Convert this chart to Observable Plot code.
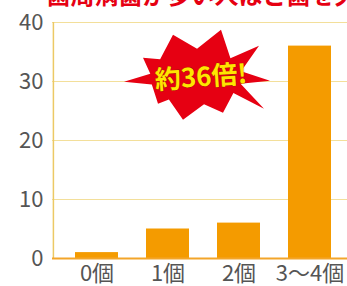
<!DOCTYPE html>
<html>
<head>
<meta charset="utf-8">
<script src="https://cdn.jsdelivr.net/npm/d3@7"></script>
<script src="https://cdn.jsdelivr.net/npm/@observablehq/plot@0.6"></script>
<style>
  html, body { margin: 0; padding: 0; background: #fff; overflow: hidden; }
  #chart svg { display: block; overflow: hidden; }
</style>
</head>
<body>
<div id="chart"></div>
<script>
const categories = ["0個", "1個", "2個", "3〜4個"];
const values = [1, 5, 6, 36];
const yTicks = [0, 10, 20, 30, 40];
const titleText = "歯周病菌が多い人ほど歯を失う割合が高い";
const calloutText = "約36倍!";
const calloutY = [30.8];

const data = categories.map((c, i) => ({category: c, value: values[i]}));

// irregular starburst shape (relative geometry)
const tips = [[-72,5],[-53,-19],[-23,-42],[25,-47],[63,-31],[74,4],[68,32],[27,36],[-13,43],[-38,27]];
const starburst = {
  draw(ctx) {
    const n = tips.length;
    tips.forEach((p, i) => {
      const q = tips[(i + 1) % n];
      const mx = (p[0] + q[0]) / 2, my = (p[1] + q[1]) / 2;
      const a = Math.atan2(my, mx);
      const ix = 46 * Math.cos(a), iy = 28 * Math.sin(a);
      if (i === 0) ctx.moveTo(p[0], p[1]); else ctx.lineTo(p[0], p[1]);
      ctx.lineTo(ix, iy);
    });
    ctx.closePath();
  }
};

const chart = Plot.plot({
  width: 347,
  height: 286,
  marginLeft: 52,
  marginRight: 0,
  marginTop: 22,
  marginBottom: 28,
  style: {fontSize: "22px", fontFamily: "'Noto Sans CJK JP', 'Noto Sans', sans-serif", color: "#555", background: "#fff"},
  x: {domain: categories, range: [52, 353.5], paddingInner: 0.4, paddingOuter: 0.32, label: null},
  y: {domain: [0, 40], ticks: yTicks, label: null},
  marks: [
    Plot.ruleY(yTicks.filter(d => d > 0), {stroke: "#f3df9a", strokeWidth: 1.2}),
    Plot.ruleX([categories[0]], {x: d => d, y1: 0, y2: 40, dx: -43.6, stroke: "#ecc965", strokeWidth: 1.5}),
    Plot.barY(data, {x: "category", y: "value", fill: "#f49b00"}),
    Plot.ruleY([0], {stroke: "#f3a52a", strokeWidth: 2}),
    Plot.axisY({ticks: yTicks, tickSize: 0, tickPadding: 9, fontSize: 22, fill: "#555"}),
    Plot.axisX({tickSize: 0, tickPadding: 7, fontSize: 22, fill: "#555"}),
    Plot.dot(calloutY, {x: () => categories[1], y: d => d, dx: 28, symbol: starburst, r: 10, fill: "#e60012", stroke: "none"}),
    Plot.text(calloutY, {x: () => categories[1], y: d => d, dx: 33, dy: 1, text: () => calloutText, rotate: -4, fontSize: 26, fontWeight: "bold", fill: "#ffe600", stroke: "#8a1a00", strokeWidth: 0.6, paintOrder: "stroke"}),
    Plot.text([titleText], {frameAnchor: "top-left", dx: -6, dy: -19, lineAnchor: "bottom", textAnchor: "start", fontSize: 24, fontWeight: "bold", fill: "#e60012"})
  ]
});
document.getElementById("chart").appendChild(chart);
</script>
</body>
</html>
